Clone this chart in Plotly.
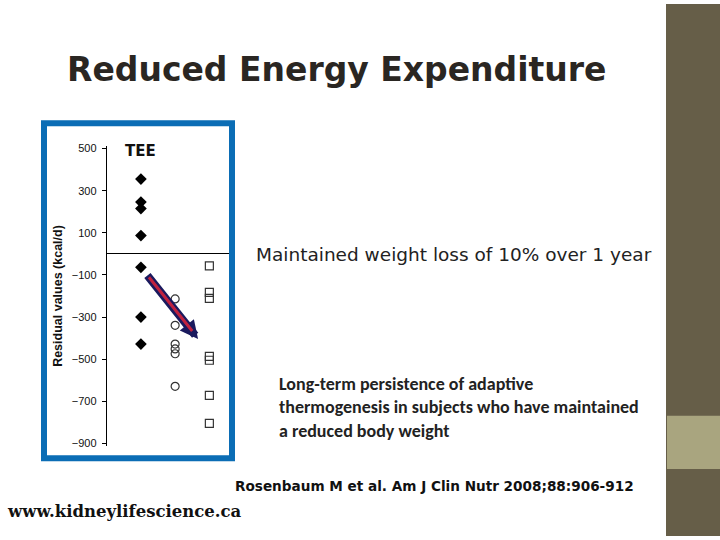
import plotly.graph_objects as go

# residual TEE values (kcal/d)
groups = ["Wt 0", "Wt -10%", "Wt -10% 1y"]
diamond_vals = [355, 246, 215, 87, -64, -300, -428]
circle_vals = [-214, -339, -428, -451, -474, -629]
square_vals = [-57, -183, -211, -487, -505, -672, -805]
y_ticks = [500, 300, 100, -100, -300, -500, -700, -900]

fig = go.Figure()

fig.add_trace(go.Scatter(x=[0] * len(diamond_vals), y=diamond_vals, mode="markers",
                         marker=dict(symbol="diamond", size=9, color="black")))
fig.add_trace(go.Scatter(x=[1] * len(circle_vals), y=circle_vals, mode="markers",
                         marker=dict(symbol="circle-open", size=8, color="#333333",
                                     line=dict(width=1.2))))
fig.add_trace(go.Scatter(x=[2] * len(square_vals), y=square_vals, mode="markers",
                         marker=dict(symbol="square-open", size=8, color="#333333",
                                     line=dict(width=1.2))))

# arrow: navy outline with red core
fig.add_annotation(x=1.67, y=-404, ax=0.155, ay=-95, xref="x", yref="y", axref="x", ayref="y",
                   text="", showarrow=True, arrowhead=2, arrowsize=0.45, arrowwidth=8,
                   arrowcolor="#1a1a5e")
fig.add_annotation(x=1.5, y=-366, ax=0.2, ay=-104, xref="x", yref="y", axref="x", ayref="y",
                   text="", showarrow=True, arrowhead=0, arrowwidth=3,
                   arrowcolor="#c0223f")

# blue frame around the figure panel
fig.add_shape(type="rect", xref="paper", yref="paper",
              x0=44 / 720, x1=232 / 720, y0=1 - 461 / 540, y1=1 - 121 / 540,
              line=dict(color="#0b6db5", width=6), fillcolor="rgba(0,0,0,0)")

# sidebar on the right
fig.add_shape(type="rect", xref="paper", yref="paper", x0=666 / 720, x1=1, y0=0, y1=1,
              line=dict(width=0), fillcolor="#665e48", layer="below")
fig.add_shape(type="rect", xref="paper", yref="paper", x0=667 / 720, x1=1,
              y0=1 - 472 / 540, y1=1 - 418 / 540,
              line=dict(width=0), fillcolor="#a9a57f", layer="below")

fig.add_annotation(x=140 / 720, y=1 - 149 / 540, xref="paper", yref="paper", text="<b>TEE</b>",
                   showarrow=False, xanchor="center", yanchor="middle",
                   font=dict(family="DejaVu Sans", size=15, color="#111111"))

fig.add_annotation(x=336 / 720, y=1 - 66 / 540, xref="paper", yref="paper",
                   text="<b>Reduced Energy Expenditure</b>", showarrow=False,
                   xanchor="center", yanchor="middle",
                   font=dict(family="DejaVu Sans", size=33, color="#2a2622"))

fig.add_annotation(x=254 / 720, y=1 - 254 / 540, xref="paper", yref="paper",
                   text="Maintained weight loss of 10% over 1 year", showarrow=False,
                   xanchor="left", yanchor="middle",
                   font=dict(family="DejaVu Sans", size=18.5, color="#222222"))

fig.add_annotation(x=277 / 720, y=1 - 410 / 540, xref="paper", yref="paper",
                   text="<b>Long-term persistence of adaptive<br>thermogenesis in subjects who have maintained<br>a reduced body weight</b>",
                   showarrow=False, xanchor="left", yanchor="middle", align="left",
                   font=dict(family="Calibri, Carlito, Liberation Sans Narrow, Roboto, sans-serif",
                             size=18, color="#222222"))

fig.add_annotation(x=233 / 720, y=1 - 489 / 540, xref="paper", yref="paper",
                   text="<b>Rosenbaum M et al. Am J Clin Nutr 2008;88:906-912</b>", showarrow=False,
                   xanchor="left", yanchor="middle",
                   font=dict(family="DejaVu Sans", size=13.6, color="#111111"))

fig.add_annotation(x=5 / 720, y=1 - 515 / 540, xref="paper", yref="paper",
                   text="<b>www.kidneylifescience.ca</b>", showarrow=False,
                   xanchor="left", yanchor="middle",
                   font=dict(family="DejaVu Serif", size=16.5, color="#111111"))

fig.update_layout(
    width=720, height=540, margin=dict(l=0, r=0, t=0, b=0),
    paper_bgcolor="white", plot_bgcolor="white", showlegend=False,
    xaxis=dict(domain=[106.7 / 720, 229 / 720], range=[-1, 2.574], visible=False),
    yaxis=dict(domain=[1 - 448.2 / 540, 1 - 144.6 / 540], range=[-910, 510],
               tickvals=y_ticks, ticks="outside", ticklen=4, tickcolor="black",
               ticklabelstandoff=3,
               showline=True, linecolor="black", linewidth=1, showgrid=False,
               zeroline=True, zerolinecolor="black", zerolinewidth=1,
               tickfont=dict(family="Arial, Liberation Sans", size=11, color="#111111"),
               title=dict(text="<b>Residual values (kcal/d)</b>", standoff=6,
                          font=dict(family="Arial, Liberation Sans", size=12.5, color="#111111"))),
)

fig.write_html("out.html", config={"displayModeBar": False},
               post_script="document.body.style.margin='0';")
